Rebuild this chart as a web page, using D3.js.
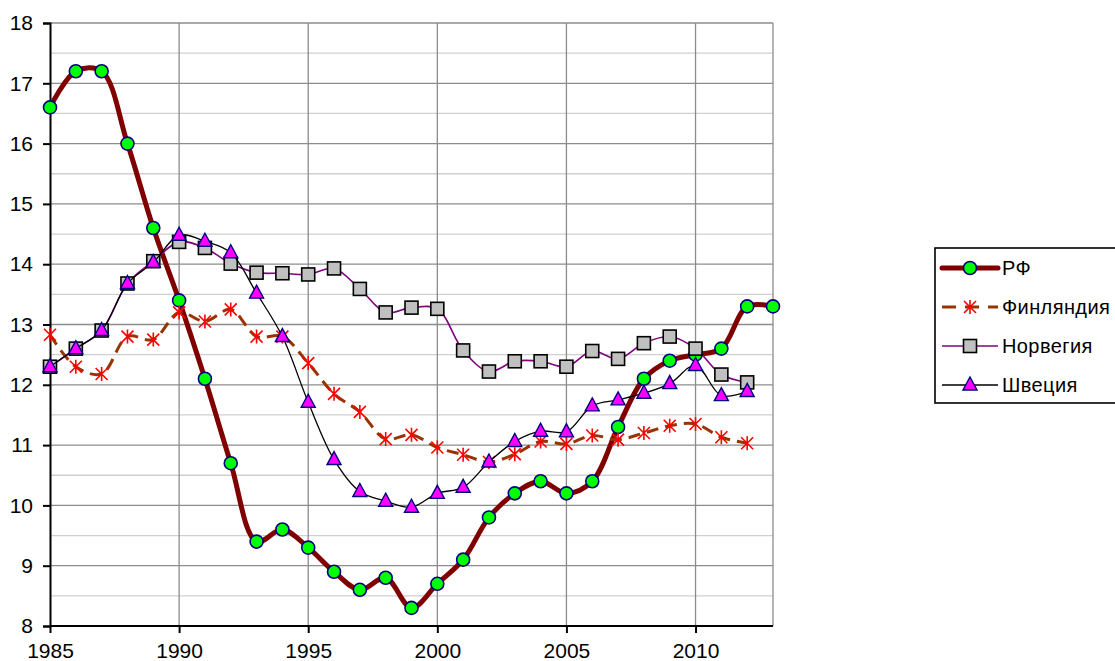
<!DOCTYPE html>
<html>
<head>
<meta charset="utf-8">
<style>
  body { margin: 0; background: #fff; }
  svg text { font-family: "Liberation Sans", Arial, sans-serif; fill: #000; }
</style>
</head>
<body>
<svg width="1115" height="661"></svg>
<script src="https://d3js.org/d3.v7.min.js"></script>
<script>
// years on the x axis
const years = d3.range(1985, 2014);

// series values
const rf = [16.6, 17.2, 17.2, 16.0, 14.6, 13.4, 12.1, 10.7, 9.4, 9.6, 9.3, 8.9, 8.6, 8.8, 8.3,
            8.7, 9.1, 9.8, 10.2, 10.4, 10.2, 10.4, 11.3, 12.1, 12.4, 12.5, 12.6, 13.3, 13.3];
const finland = [12.83, 12.3, 12.18, 12.8, 12.75, 13.2, 13.05, 13.25, 12.8, 12.8, 12.36, 11.85, 11.55, 11.1,
                 11.17, 10.96, 10.84, 10.72, 10.85, 11.06, 11.02, 11.16, 11.09, 11.2, 11.32, 11.35, 11.13, 11.03];
const norway = [12.3, 12.6, 12.9, 13.68, 14.05, 14.37, 14.27, 14.01, 13.86, 13.85, 13.83, 13.93, 13.59, 13.2,
                13.28, 13.26, 12.57, 12.22, 12.39, 12.39, 12.3, 12.56, 12.43, 12.69, 12.8, 12.6, 12.17, 12.04];
const sweden = [12.3, 12.6, 12.9, 13.68, 14.03, 14.48, 14.38, 14.19, 13.52, 12.8, 11.71, 10.76, 10.23, 10.07,
                9.97, 10.2, 10.3, 10.72, 11.06, 11.23, 11.22, 11.65, 11.75, 11.86, 12.02, 12.32, 11.82, 11.89];

const seriesNames = ["РФ", "Финляндия", "Норвегия", "Швеция"];
const xTicks = [1985, 1990, 1995, 2000, 2005, 2010];
const yTicks = [8, 9, 10, 11, 12, 13, 14, 15, 16, 17, 18];

const svg = d3.select("svg");
const mLeft = 50, mRight = 773, mTop = 23, mBottom = 626;

const x = d3.scaleLinear().domain([1985, 2013]).range([mLeft, mRight]);
const y = d3.scaleLinear().domain([8, 18]).range([mBottom, mTop]);

// minor grid (half units)
svg.append("g").selectAll("line")
  .data(d3.range(8.5, 18, 1))
  .join("line")
  .attr("x1", mLeft).attr("x2", mRight)
  .attr("y1", d => y(d)).attr("y2", d => y(d))
  .attr("stroke", "#cfcfcf").attr("stroke-width", 1.3);

// major grid
svg.append("g").selectAll("line")
  .data(yTicks.slice(1))
  .join("line")
  .attr("x1", mLeft).attr("x2", mRight)
  .attr("y1", d => y(d)).attr("y2", d => y(d))
  .attr("stroke", "#8c8c8c").attr("stroke-width", 1.3);

svg.append("g").selectAll("line")
  .data([1990, 1995, 2000, 2005, 2010, 2013])
  .join("line")
  .attr("x1", d => x(d)).attr("x2", d => x(d))
  .attr("y1", mTop).attr("y2", mBottom)
  .attr("stroke", "#8c8c8c").attr("stroke-width", 1.3);

// axes
const yAxis = svg.append("g")
  .attr("transform", `translate(${mLeft},0)`)
  .call(d3.axisLeft(y).tickValues(yTicks).tickSize(7).tickPadding(10));
const xAxis = svg.append("g")
  .attr("transform", `translate(0,${mBottom})`)
  .call(d3.axisBottom(x).tickValues(xTicks).tickFormat(d3.format("d")).tickSize(7).tickPadding(10));
[yAxis, xAxis].forEach(g => {
  g.attr("font-size", 21).attr("font-family", "Liberation Sans, Arial, sans-serif");
  g.select(".domain").attr("stroke", "#000").attr("stroke-width", 2);
  g.selectAll(".tick line").attr("stroke", "#000").attr("stroke-width", 2);
});
xAxis.select(".domain").attr("d", `M${mLeft},0H${mRight}`);

const line = d3.line()
  .x((d, i) => x(years[i]))
  .y(d => y(d))
  .curve(d3.curveCatmullRom.alpha(0.5));

const styles = [
  { data: rf, stroke: "#800000", width: 5, dash: null },
  { data: finland, stroke: "#993300", width: 3, dash: "12,7" },
  { data: norway, stroke: "#800080", width: 1.6, dash: null },
  { data: sweden, stroke: "#000", width: 1.3, dash: null }
];

// markers
function marker(g, kind, cx, cy) {
  if (kind === 0) {
    g.append("circle").attr("cx", cx).attr("cy", cy).attr("r", 6.5)
      .attr("fill", "#00ff00").attr("stroke", "#000080").attr("stroke-width", 1.6);
  } else if (kind === 1) {
    const s = 6;
    g.append("path")
      .attr("d", `M${cx - s},${cy - s}L${cx + s},${cy + s}M${cx - s},${cy + s}L${cx + s},${cy - s}M${cx},${cy - s - 1}L${cx},${cy + s + 1}`)
      .attr("stroke", "#ff0000").attr("stroke-width", 1.6).attr("fill", "none");
  } else if (kind === 2) {
    g.append("rect").attr("x", cx - 6.5).attr("y", cy - 6.5).attr("width", 13).attr("height", 13)
      .attr("fill", "#c0c0c0").attr("stroke", "#000").attr("stroke-width", 1.6);
  } else {
    g.append("path")
      .attr("d", `M${cx},${cy - 8}L${cx + 7},${cy + 5}L${cx - 7},${cy + 5}Z`)
      .attr("fill", "#ff00ff").attr("stroke", "#000080").attr("stroke-width", 1.4);
  }
}

// draw in back-to-front order like the original
[0, 1, 2, 3].forEach(k => {
  const s = styles[k];
  svg.append("path")
    .datum(s.data)
    .attr("d", line)
    .attr("fill", "none")
    .attr("stroke", s.stroke)
    .attr("stroke-width", s.width)
    .attr("stroke-dasharray", s.dash);
  const g = svg.append("g");
  s.data.forEach((v, i) => marker(g, k, x(years[i]), y(v)));
});

// legend
const lg = svg.append("g");
lg.append("rect").attr("x", 935).attr("y", 248).attr("width", 190).attr("height", 155)
  .attr("fill", "#fff").attr("stroke", "#000").attr("stroke-width", 1.6);
seriesNames.forEach((name, k) => {
  const ly = 268 + k * 39;
  const s = styles[k];
  lg.append("line").attr("x1", 942).attr("x2", 998).attr("y1", ly).attr("y2", ly)
    .attr("stroke", s.stroke).attr("stroke-width", s.width)
    .attr("stroke-linecap", k === 0 ? "round" : "butt")
    .attr("stroke-dasharray", k === 1 ? "14,9" : null);
  marker(lg, k, 970, ly);
  lg.append("text").attr("x", 1002).attr("y", ly + 7).text(name)
    .attr("font-size", 20).attr("letter-spacing", 0.4);
});
</script>
</body>
</html>
